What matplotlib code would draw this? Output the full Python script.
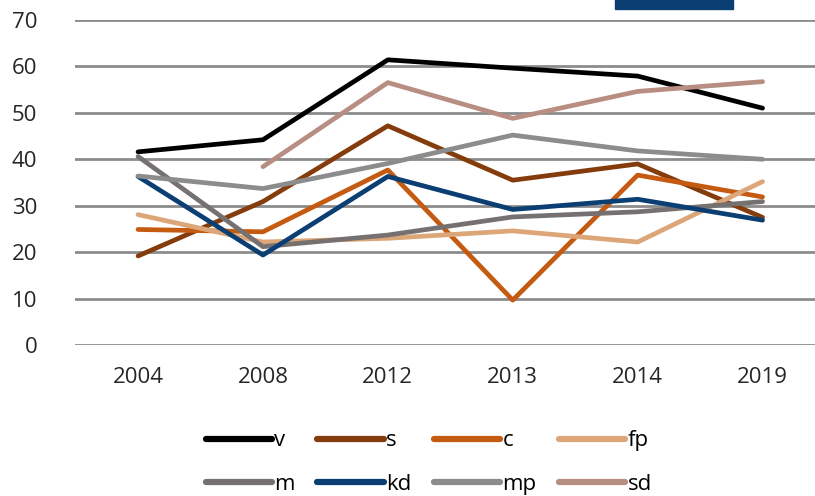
import matplotlib.pyplot as plt
from matplotlib.patches import Rectangle

# --------------------------------------------------------------
# Data
# --------------------------------------------------------------
years = ["2004", "2008", "2012", "2013", "2014", "2019"]

v = [41.6, 44.2, 61.4, 59.6, 57.9, 51.0]
s = [19.2, 30.9, 47.2, 35.5, 39.0, 27.5]
c = [24.9, 24.4, 37.7, 9.7, 36.6, 31.9]
fp = [28.1, 22.2, 23.0, 24.6, 22.2, 35.2]
m = [40.6, 21.2, 23.7, 27.6, 28.7, 30.9]
kd = [36.3, 19.4, 36.3, 29.2, 31.4, 26.9]
mp = [36.4, 33.7, 39.1, 45.2, 41.8, 40.0]
sd = [None, 38.4, 56.5, 48.8, 54.6, 56.7]

series = [
    ("v", v, "#000000"),
    ("s", s, "#843c0c"),
    ("c", c, "#c55a11"),
    ("fp", fp, "#dda678"),
    ("m", m, "#767171"),
    ("kd", kd, "#0b3f74"),
    ("mp", mp, "#8c8c8c"),
    ("sd", sd, "#b98e82"),
]

plt.rcParams['font.family'] = ['Open Sans', 'DejaVu Sans']

fig = plt.figure(figsize=(8.15, 4.96), dpi=100)
ax = fig.add_axes([0.092, 0.304, 0.908, 0.656])

x = list(range(len(years)))
lines = []
for name, vals, col in series:
    xs = [xi for xi, val in zip(x, vals) if val is not None]
    ys = [val for val in vals if val is not None]
    ln, = ax.plot(xs, ys, color=col, lw=3.4, label=name, solid_capstyle='round')
    lines.append(ln)

ax.set_ylim(0, 70)
ax.set_yticks(range(0, 71, 10))
ax.set_xlim(-0.505, 5.42)
ax.set_xticks(x)
ax.set_xticklabels(years)
ax.yaxis.grid(True, color="#8c8c8c", lw=2)
ax.set_axisbelow(True)
for sp in ax.spines.values():
    sp.set_visible(False)
ax.tick_params(length=0, labelsize=16, colors="#262626")
ax.tick_params(axis='x', pad=16)
ax.tick_params(axis='y', pad=27)

# legend is filled row by row in the reference, matplotlib fills by column
order = [0, 4, 1, 5, 2, 6, 3, 7]
leg = ax.legend([lines[i] for i in order], [series[i][0] for i in order],
                loc="upper center", bbox_to_anchor=(0.478, -0.2), ncol=4,
                frameon=False, fontsize=16, handlelength=3.0, handletextpad=0.1,
                columnspacing=1.0, labelspacing=1.0)
for h in leg.get_lines():
    h.set_linewidth(4.5)
    h.set_solid_capstyle('round')

# blue box partly cut off at the top
fig.patches.append(Rectangle((615 / 815, 1 - 9 / 496), 118 / 815, 12 / 496,
                             transform=fig.transFigure, color="#0b3f74"))

fig.savefig("out.png", dpi=100)
